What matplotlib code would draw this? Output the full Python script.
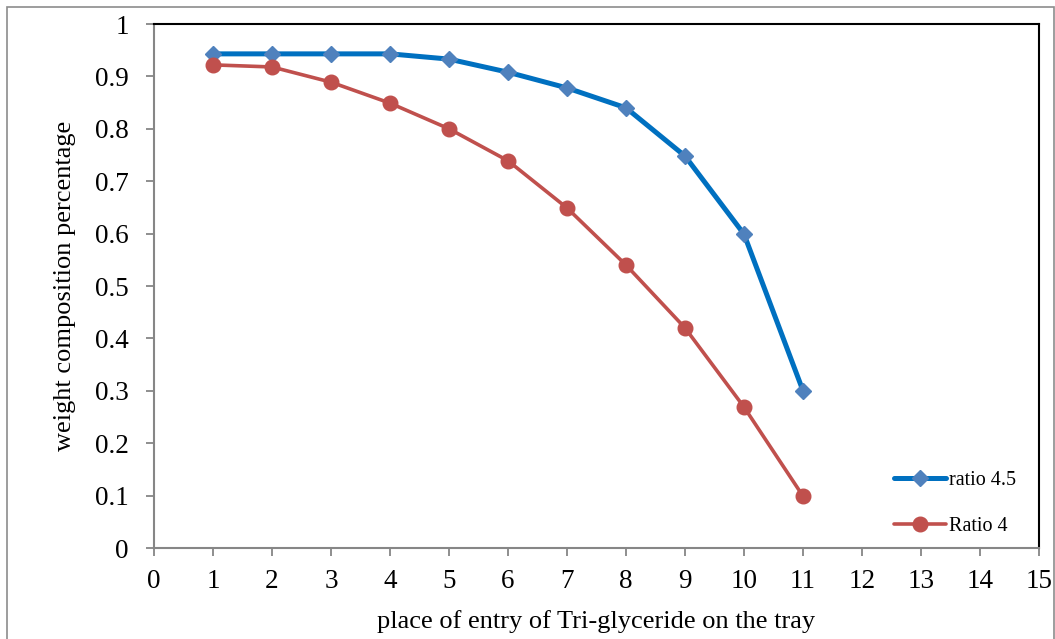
import matplotlib
matplotlib.use("Agg")
import matplotlib.pyplot as plt
from matplotlib.patches import Rectangle

x_vals = [1, 2, 3, 4, 5, 6, 7, 8, 9, 10, 11]
ratio_45 = [0.943, 0.943, 0.943, 0.943, 0.933, 0.908, 0.878, 0.840, 0.748, 0.599, 0.300]
ratio_4 = [0.922, 0.918, 0.889, 0.849, 0.800, 0.739, 0.649, 0.540, 0.420, 0.269, 0.099]
x_ticks = list(range(0, 16))
y_ticks = [0, 0.1, 0.2, 0.3, 0.4, 0.5, 0.6, 0.7, 0.8, 0.9, 1]
y_tick_labels = ["0", "0.1", "0.2", "0.3", "0.4", "0.5", "0.6", "0.7", "0.8", "0.9", "1"]

plt.rcParams['font.family'] = ['Liberation Serif', 'DejaVu Serif']

fig = plt.figure(figsize=(10.55, 6.39), dpi=100)
ax = fig.add_axes([154/1055, 1-548/639, (1039-154)/1055, (548-24)/639])

fig.patches.append(Rectangle((7/1055, -0.05), (1054-7)/1055, 1.05 - 7/639,
                             transform=fig.transFigure, fill=False,
                             edgecolor='#8c8c8c', linewidth=1.2, zorder=0))

ax.plot(x_vals, ratio_45, color='#0070C0', linewidth=3.6, marker='D',
        markersize=8.5, markerfacecolor='#4F81BD', markeredgecolor='#4F81BD',
        label='ratio 4.5', solid_capstyle='round')
ax.plot(x_vals, ratio_4, color='#C0504D', linewidth=2.6, marker='o',
        markersize=10.5, markerfacecolor='#C0504D', markeredgecolor='#C0504D',
        label='Ratio 4', solid_capstyle='round')

ax.set_xlim(0, 15)
ax.set_ylim(0, 1)
ax.set_xticks(x_ticks)
ax.set_xticklabels([str(t) for t in x_ticks])
ax.set_yticks(y_ticks)
ax.set_yticklabels(y_tick_labels)

for s in ['left', 'bottom']:
    ax.spines[s].set_color('#868686')
    ax.spines[s].set_linewidth(1.5)
for s in ['top', 'right']:
    ax.spines[s].set_color('black')
    ax.spines[s].set_linewidth(1.5)

ax.tick_params(axis='both', direction='out', length=6, width=1.3, color='#868686',
               labelsize=19.5)
ax.tick_params(axis='y', pad=12)
ax.tick_params(axis='x', pad=9)

ax.set_xlabel('place of entry of Tri-glyceride on the tray', fontsize=19, labelpad=12)
ax.set_ylabel('weight composition percentage', fontsize=19, labelpad=14)

leg = ax.legend(loc='lower right', bbox_to_anchor=(0.995, -0.012), frameon=False,
                fontsize=14.5, handlelength=2.6, handletextpad=0.15, labelspacing=1.35,
                borderaxespad=0.5)

fig.savefig('out.png', dpi=100)
